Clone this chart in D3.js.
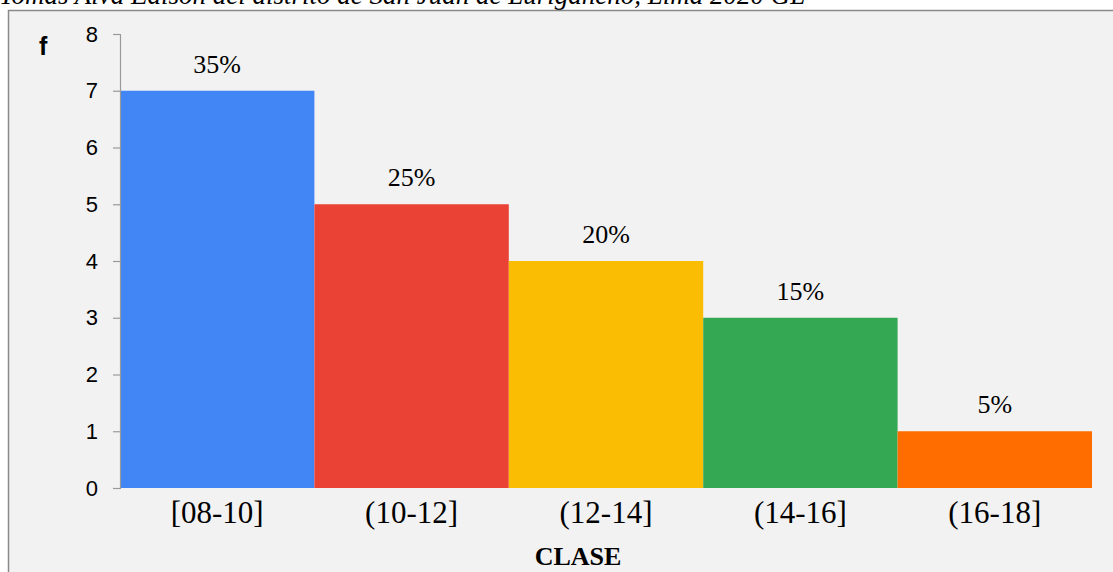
<!DOCTYPE html>
<html>
<head>
<meta charset="utf-8">
<script src="https://cdn.jsdelivr.net/npm/d3@7"></script>
<style>
  html, body { margin: 0; padding: 0; background: #ffffff; }
  svg { display: block; }
</style>
</head>
<body>
<svg id="chart" width="1113" height="572"></svg>
<script>
// Frequency distribution of class intervals
const categories = ["[08-10]", "(10-12]", "(12-14]", "(14-16]", "(16-18]"];
const frequencies = [7, 5, 4, 3, 1];
const barColors = ["#4285f4", "#ea4335", "#fbbc04", "#34a853", "#ff6d01"];
const yTicks = [0, 1, 2, 3, 4, 5, 6, 7, 8];
const titleText = "Tomas Alva Edison del distrito de San Juan de Lurigancho, Lima 2020 GL";
const xTitle = "CLASE";
const yTitle = "f";

const W = 1113, H = 572;
const plot = { left: 120, right: 1092, top: 34, bottom: 488 };
const serif = "'Liberation Serif', 'Times New Roman', serif";
const sans = "'Liberation Sans', Arial, sans-serif";

const svg = d3.select("#chart");

// caption line above the frame (runs off the top of the canvas)
svg.append("text")
  .attr("x", -1).attr("y", 4)
  .attr("font-family", serif).attr("font-style", "italic")
  .attr("font-size", 27).attr("fill", "#000")
  .text(titleText);

// chart frame
svg.append("rect")
  .attr("x", 8.5).attr("y", 10.5)
  .attr("width", 1130).attr("height", 600)
  .attr("fill", "#f2f2f2")
  .attr("stroke", "#8a8a8a").attr("stroke-width", 1.5);

const x = d3.scaleBand().domain(categories).range([plot.left, plot.right]).padding(0);
const y = d3.scaleLinear().domain([0, 8]).range([plot.bottom, plot.top]);

const total = d3.sum(frequencies);
const data = categories.map((c, i) => ({ c, v: frequencies[i], color: barColors[i] }));

// bars
svg.append("g").selectAll("rect").data(data).join("rect")
  .attr("x", d => x(d.c))
  .attr("y", d => y(d.v))
  .attr("width", x.bandwidth())
  .attr("height", d => y(0) - y(d.v))
  .attr("fill", d => d.color);

// percentage labels above bars
svg.append("g").selectAll("text").data(data).join("text")
  .attr("x", d => x(d.c) + x.bandwidth() / 2)
  .attr("y", d => y(d.v) - 18)
  .attr("text-anchor", "middle")
  .style("font-family", serif).style("font-size", "26px").attr("fill", "#000")
  .text(d => Math.round(d.v / total * 100) + "%");

// y axis
const yAxis = svg.append("g")
  .attr("transform", `translate(${plot.left},0)`)
  .call(d3.axisLeft(y).tickValues(yTicks).tickSize(7).tickSizeOuter(7).tickPadding(15));
yAxis.select(".domain").attr("stroke", "#9a9a9a").attr("stroke-width", 1.2);
yAxis.selectAll(".tick line").attr("stroke", "#9a9a9a").attr("stroke-width", 1.2);
yAxis.selectAll(".tick text")
  .style("font-family", sans).style("font-size", "22px").attr("fill", "#000");

// x category labels
svg.append("g").selectAll("text").data(categories).join("text")
  .attr("x", d => x(d) + x.bandwidth() / 2)
  .attr("y", 523)
  .attr("text-anchor", "middle")
  .style("font-family", serif).style("font-size", "31px").attr("fill", "#000")
  .text(d => d);

// axis titles
svg.append("text")
  .attr("x", 578).attr("y", 565)
  .attr("text-anchor", "middle")
  .style("font-family", serif).style("font-weight", "bold")
  .style("font-size", "26px").attr("fill", "#000")
  .text(xTitle);

svg.append("text")
  .attr("x", 39).attr("y", 55)
  .style("font-family", sans).style("font-weight", "bold")
  .style("font-size", "25px").attr("fill", "#000")
  .text(yTitle);
</script>
</body>
</html>
